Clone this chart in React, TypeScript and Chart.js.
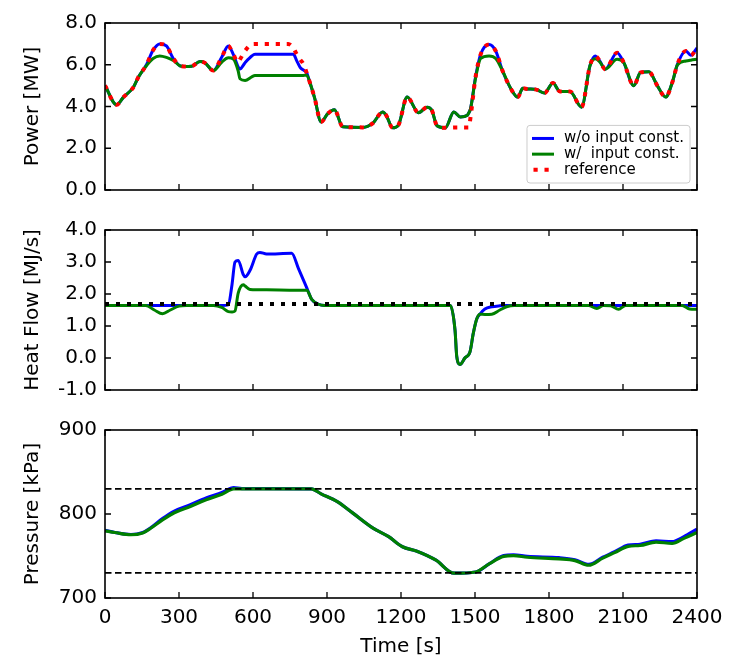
import React, { useEffect, useRef } from "react";
import { Chart, registerables } from "chart.js";

Chart.register(...registerables);

const FONT = "'DejaVu Sans', 'Liberation Sans', sans-serif";

// ---------- Shared x axis ----------
const timeMin = 0;
const timeMax = 2400;
const timeStep = 300;

// ---------- Power panel ----------
const powerTime = [
  0, 47, 75, 115, 135, 168, 195, 222, 249, 277, 304, 320, 351, 385, 405, 439, 473, 500, 520, 540,
  547, 568, 595, 608, 743, 764, 777, 791, 804, 818, 832, 850, 876, 903, 930, 964, 1045, 1085, 1126,
  1140, 1166, 1189, 1225, 1271, 1306, 1325, 1346, 1380, 1414, 1441, 1469, 1475, 1482, 1503, 1523,
  1557, 1584, 1612, 1646, 1673, 1694, 1714, 1748, 1782, 1816, 1844, 1885, 1932, 1966, 1987, 2005,
  2028, 2076, 2103, 2144, 2171, 2205, 2239, 2273, 2300, 2321, 2355, 2375, 2400,
];
const powerReference = [
  5.0, 4.08, 4.45, 4.92, 5.4, 6.0, 6.7, 7.0, 6.9, 6.3, 5.95, 5.92, 5.93, 6.15, 6.09, 5.72, 6.36, 6.9, 6.5, 6.12,
  6.25, 6.67, 6.99, 7.0, 7.0, 6.8, 6.51, 6.25, 6.04, 5.6, 5.1, 4.4, 3.26, 3.66, 3.85, 3.03, 3.0, 3.19, 3.74,
  3.58, 2.98, 3.1, 4.45, 3.7, 3.97, 3.82, 3.08, 2.98, 3.0, 3.0, 3.0, 3.0, 3.5, 5.47, 6.5,
  6.97, 6.66, 5.7, 4.84, 4.45, 4.87, 4.84, 4.81, 4.65, 5.13, 4.72, 4.72, 3.97, 5.95, 6.42, 6.2,
  5.79, 6.58, 6.1, 5.0, 5.63, 5.66, 5.0, 4.45, 5.16, 6.03, 6.66, 6.45, 6.81,
];
const powerWithout = [
  5.0, 4.08, 4.45, 4.92, 5.4, 6.0, 6.7, 7.0, 6.9, 6.3, 5.95, 5.92, 5.93, 6.15, 6.09, 5.72, 6.36, 6.9, 6.5, 5.9,
  5.8, 6.1, 6.42, 6.5, 6.5, 6.5, 6.2, 5.88, 5.75, 5.6, 5.1, 4.4, 3.26, 3.66, 3.85, 3.03, 3.0, 3.19, 3.74,
  3.58, 2.98, 3.1, 4.45, 3.7, 3.97, 3.82, 3.08, 2.98, 3.74, 3.5, 3.58, 3.7, 3.9, 5.47, 6.5,
  6.97, 6.66, 5.7, 4.84, 4.45, 4.87, 4.84, 4.81, 4.65, 5.13, 4.72, 4.72, 3.97, 5.95, 6.42, 6.2,
  5.79, 6.58, 6.1, 5.0, 5.63, 5.66, 5.0, 4.45, 5.16, 6.03, 6.66, 6.45, 6.81,
];
const powerWith = [
  5.0, 4.08, 4.45, 4.92, 5.4, 5.95, 6.3, 6.42, 6.35, 6.2, 5.95, 5.92, 5.93, 6.15, 6.09, 5.72, 6.12, 6.33, 6.28, 5.7,
  5.33, 5.25, 5.42, 5.48, 5.48, 5.48, 5.48, 5.48, 5.49, 5.5, 5.1, 4.4, 3.26, 3.66, 3.85, 3.03, 3.0, 3.19, 3.74,
  3.58, 2.98, 3.1, 4.45, 3.7, 3.97, 3.82, 3.08, 2.98, 3.74, 3.5, 3.58, 3.7, 3.9, 5.4, 6.3,
  6.42, 6.3, 5.7, 4.84, 4.45, 4.87, 4.84, 4.81, 4.65, 5.13, 4.72, 4.72, 3.97, 5.95, 6.29, 6.15,
  5.79, 6.26, 6.1, 5.0, 5.63, 5.66, 5.0, 4.45, 5.16, 6.0, 6.18, 6.22, 6.26,
];
const powerTicks = { min: 0, max: 8, step: 2 };

// ---------- Heat flow panel ----------
const heatTime = [
  0, 165, 200, 233, 265, 300, 330, 440, 473, 500, 515, 527, 540, 561, 568, 588, 615, 628, 655, 757,
  784, 818, 838, 865, 890, 1400, 1419, 1426, 1439, 1459, 1480, 1493, 1507, 1520, 1540, 1568, 1601,
  1628, 1660, 1960, 1994, 2020, 2050, 2082, 2110, 2340, 2370, 2400,
];
const heatWithout = [
  1.64, 1.64, 1.64, 1.64, 1.64, 1.64, 1.64, 1.64, 1.64, 1.66, 2.3, 3.0, 3.05, 2.6, 2.54, 2.74, 3.25, 3.3, 3.25, 3.27,
  2.8, 2.19, 1.83, 1.68, 1.64, 1.64, 0.87, 0.05, -0.2, 0.0, 0.2, 0.77, 1.22, 1.37, 1.53, 1.6, 1.63,
  1.64, 1.64, 1.64, 1.64, 1.64, 1.64, 1.64, 1.64, 1.64, 1.64, 1.64,
];
const heatWith = [
  1.64, 1.64, 1.5, 1.38, 1.5, 1.62, 1.64, 1.64, 1.58, 1.45, 1.44, 1.47, 2.03, 2.29, 2.25, 2.14, 2.13, 2.13, 2.13, 2.12,
  2.12, 2.12, 1.83, 1.68, 1.64, 1.64, 0.87, 0.05, -0.2, 0.0, 0.2, 0.77, 1.22, 1.37, 1.36, 1.37, 1.5,
  1.6, 1.64, 1.64, 1.55, 1.64, 1.63, 1.52, 1.64, 1.64, 1.53, 1.52,
];
const heatRefTime = [0, 2400];
const heatReference = [1.69, 1.69];
const heatTicks = { min: -1, max: 4, step: 1 };

// ---------- Pressure panel ----------
const pressureTime = [
  0, 40, 105, 153, 185, 233, 281, 346, 410, 474, 522, 555, 836, 876, 940, 1005, 1085, 1150, 1206, 1262,
  1342, 1415, 1503, 1559, 1616, 1656, 1712, 1841, 1905, 1961, 2018, 2066, 2121, 2169, 2234, 2299, 2347, 2400,
];
const pressureWithout = [
  780.5, 778, 775.6, 778, 783.5, 794.5, 803.5, 811, 819, 825.5, 831.5, 830.3, 830, 824, 815, 801, 783.5, 773, 761, 756,
  745, 729.5, 731, 741, 750.5, 751.5, 749.5, 748, 745.5, 740, 748.5, 755, 763, 764, 768, 767, 773, 782,
];
const pressureWith = [
  780, 778, 775.3, 777.5, 783, 793, 801.5, 809, 817, 823.5, 830, 830, 830, 824, 815, 801, 783.5, 773, 761, 756,
  745, 729.5, 731, 741, 749.5, 750.5, 748.5, 746.5, 744.5, 739, 747.5, 754, 761.5, 762.5, 766.5, 765, 771, 778,
];
const pressureLimitTime = [0, 2400];
const pressureUpper = [830, 830];
const pressureLower = [730, 730];
const pressureTicks = { min: 700, max: 900, step: 100 };

// ---------- Labels ----------
const seriesLabels = ["w/o input const.", "w/  input const.", "reference"];
const yTitles = ["Power [MW]", "Heat Flow [MJ/s]", "Pressure [kPa]"];
const xTitle = "Time [s]";

// ---------- Helpers ----------
function lineDataset(
  label: string | undefined,
  times: number[],
  vals: number[],
  color: string,
  width: number,
  dash: number[],
  order: number,
  smooth = true
) {
  return {
    label,
    data: times.map((t, i) => ({ x: t, y: vals[i] })),
    borderColor: color,
    backgroundColor: color,
    borderWidth: width,
    borderDash: dash,
    borderCapStyle: "butt",
    borderJoinStyle: "round",
    pointRadius: 0,
    pointHoverRadius: 0,
    fill: false,
    cubicInterpolationMode: smooth ? "monotone" : "default",
    tension: 0,
    order,
  };
}

const frameTicksPlugin = {
  id: "frameTicks",
  afterDraw(chart: any) {
    const { ctx, chartArea: a, scales } = chart;
    const L = 6;
    ctx.save();
    ctx.strokeStyle = "#000";
    ctx.lineWidth = 1.3;
    ctx.setLineDash([]);
    ctx.beginPath();
    scales.x.ticks.forEach((t: any) => {
      const px = scales.x.getPixelForValue(t.value);
      ctx.moveTo(px, a.bottom);
      ctx.lineTo(px, a.bottom - L);
      ctx.moveTo(px, a.top);
      ctx.lineTo(px, a.top + L);
    });
    scales.y.ticks.forEach((t: any) => {
      const py = scales.y.getPixelForValue(t.value);
      ctx.moveTo(a.left, py);
      ctx.lineTo(a.left + L, py);
      ctx.moveTo(a.right, py);
      ctx.lineTo(a.right - L, py);
    });
    ctx.stroke();
    ctx.lineWidth = 1.6;
    ctx.strokeRect(a.left, a.top, a.right - a.left, a.bottom - a.top);
    ctx.restore();
  },
};

const legendPlugin = {
  id: "innerLegend",
  afterDraw(chart: any) {
    const { ctx, chartArea: a } = chart;
    const items = chart.data.datasets.filter((d: any) => d.label);
    ctx.save();
    ctx.font = `15px ${FONT}`;
    const maxW = Math.max(...items.map((d: any) => ctx.measureText(d.label).width));
    const rowH = 15.7;
    const handle = 22;
    const w = 5 + handle + 10 + maxW + 6;
    const h = items.length * rowH + 10.5;
    const x0 = a.right - 7 - w;
    const y0 = a.bottom - 7 - h;
    // box
    ctx.beginPath();
    const r = 3;
    ctx.moveTo(x0 + r, y0);
    ctx.lineTo(x0 + w - r, y0);
    ctx.quadraticCurveTo(x0 + w, y0, x0 + w, y0 + r);
    ctx.lineTo(x0 + w, y0 + h - r);
    ctx.quadraticCurveTo(x0 + w, y0 + h, x0 + w - r, y0 + h);
    ctx.lineTo(x0 + r, y0 + h);
    ctx.quadraticCurveTo(x0, y0 + h, x0, y0 + h - r);
    ctx.lineTo(x0, y0 + r);
    ctx.quadraticCurveTo(x0, y0, x0 + r, y0);
    ctx.closePath();
    ctx.fillStyle = "rgba(255,255,255,0.85)";
    ctx.fill();
    ctx.strokeStyle = "#cccccc";
    ctx.lineWidth = 1;
    ctx.stroke();
    items.forEach((d: any, i: number) => {
      const cy = y0 + 5.2 + rowH / 2 + i * rowH;
      ctx.beginPath();
      ctx.strokeStyle = d.borderColor;
      ctx.lineWidth = d.borderWidth;
      ctx.lineCap = "butt";
      ctx.setLineDash(d.borderDash || []);
      ctx.lineDashOffset = d.borderDash && d.borderDash.length ? -1.5 : 0;
      ctx.moveTo(x0 + 5, cy);
      ctx.lineTo(x0 + 5 + handle, cy);
      ctx.stroke();
      ctx.setLineDash([]);
      ctx.fillStyle = "#000";
      ctx.textBaseline = "middle";
      ctx.textAlign = "left";
      ctx.fillText(d.label, x0 + 5 + handle + 10, cy);
    });
    ctx.restore();
  },
};

const X_AXIS_H = 73;

function buildOptions(opts: {
  ticks: { min: number; max: number; step: number };
  yTitle: string;
  yFmt: (v: number) => string;
  pad: { top: number; bottom: number; left: number; right: number };
  showX: boolean;
}) {
  const font = { family: FONT, size: 20 };
  return {
    animation: false,
    responsive: false,
    maintainAspectRatio: false,
    events: [],
    layout: { padding: opts.pad },
    plugins: { legend: { display: false }, tooltip: { enabled: false } },
    scales: {
      x: {
        type: "linear",
        min: timeMin,
        max: timeMax,
        ticks: {
          stepSize: timeStep,
          display: opts.showX,
          padding: 8,
          color: "#000",
          font,
          maxRotation: 0,
          autoSkip: false,
          callback: (v: number) => String(v),
        },
        grid: { display: false, drawTicks: false },
        border: { display: false },
        title: {
          display: opts.showX,
          text: xTitle,
          color: "#000",
          font,
          padding: { top: 0, bottom: 12 },
        },
        afterFit: (s: any) => {
          s.height = opts.showX ? X_AXIS_H : 0;
        },
      },
      y: {
        type: "linear",
        min: opts.ticks.min,
        max: opts.ticks.max,
        ticks: {
          stepSize: opts.ticks.step,
          padding: 8,
          color: "#000",
          font,
          callback: (v: number) => opts.yFmt(v),
        },
        grid: { display: false, drawTicks: false },
        border: { display: false },
        title: {
          display: true,
          text: opts.yTitle,
          color: "#000",
          font,
          padding: { top: 21, bottom: 0 },
        },
        afterFit: (s: any) => {
          s.width = 105;
        },
      },
    },
  };
}

const BLUE = "#0000ff";
const GREEN = "#008000";
const RED = "#ff0000";

export default function App() {
  const c1 = useRef<HTMLCanvasElement>(null);
  const c2 = useRef<HTMLCanvasElement>(null);
  const c3 = useRef<HTMLCanvasElement>(null);

  useEffect(() => {
    const charts: Chart[] = [];
    charts.push(
      new Chart(c1.current as HTMLCanvasElement, {
        type: "line",
        data: {
          datasets: [
            lineDataset(seriesLabels[0], powerTime, powerWithout, BLUE, 3, [], 3),
            lineDataset(seriesLabels[1], powerTime, powerWith, GREEN, 3, [], 2),
            lineDataset(seriesLabels[2], powerTime, powerReference, RED, 4, [4.2, 6.8], 1),
          ],
        } as any,
        options: buildOptions({
          ticks: powerTicks,
          yTitle: yTitles[0],
          yFmt: (v) => v.toFixed(1),
          pad: { top: 23, bottom: 18, left: 0, right: 42 },
          showX: false,
        }) as any,
        plugins: [frameTicksPlugin, legendPlugin],
      })
    );
    charts.push(
      new Chart(c2.current as HTMLCanvasElement, {
        type: "line",
        data: {
          datasets: [
            lineDataset(undefined, heatTime, heatWithout, BLUE, 3, [], 3),
            lineDataset(undefined, heatTime, heatWith, GREEN, 3, [], 2),
            lineDataset(undefined, heatRefTime, heatReference, "#000", 4, [4, 7], 1, false),
          ],
        } as any,
        options: buildOptions({
          ticks: heatTicks,
          yTitle: yTitles[1],
          yFmt: (v) => v.toFixed(1),
          pad: { top: 17, bottom: 19, left: 0, right: 42 },
          showX: false,
        }) as any,
        plugins: [frameTicksPlugin],
      })
    );
    charts.push(
      new Chart(c3.current as HTMLCanvasElement, {
        type: "line",
        data: {
          datasets: [
            lineDataset(undefined, pressureTime, pressureWithout, BLUE, 3.2, [], 4),
            lineDataset(undefined, pressureTime, pressureWith, GREEN, 3.2, [], 3),
            lineDataset(undefined, pressureLimitTime, pressureUpper, "#000", 1.8, [6.5, 3.5], 2, false),
            lineDataset(undefined, pressureLimitTime, pressureLower, "#000", 1.8, [6.5, 3.5], 1, false),
          ],
        } as any,
        options: buildOptions({
          ticks: pressureTicks,
          yTitle: yTitles[2],
          yFmt: (v) => String(v),
          pad: { top: 18, bottom: 0, left: 0, right: 42 },
          showX: true,
        }) as any,
        plugins: [frameTicksPlugin],
      })
    );
    return () => charts.forEach((c) => c.destroy());
  }, []);

  return (
    <div style={{ position: "absolute", left: 0, top: 0, width: 739, height: 671, background: "#fff" }}>
      <canvas ref={c1} width={739} height={210} style={{ position: "absolute", left: 0, top: 0, display: "block" }} />
      <canvas ref={c2} width={739} height={200} style={{ position: "absolute", left: 0, top: 210, display: "block" }} />
      <canvas ref={c3} width={739} height={261} style={{ position: "absolute", left: 0, top: 410, display: "block" }} />
    </div>
  );
}
